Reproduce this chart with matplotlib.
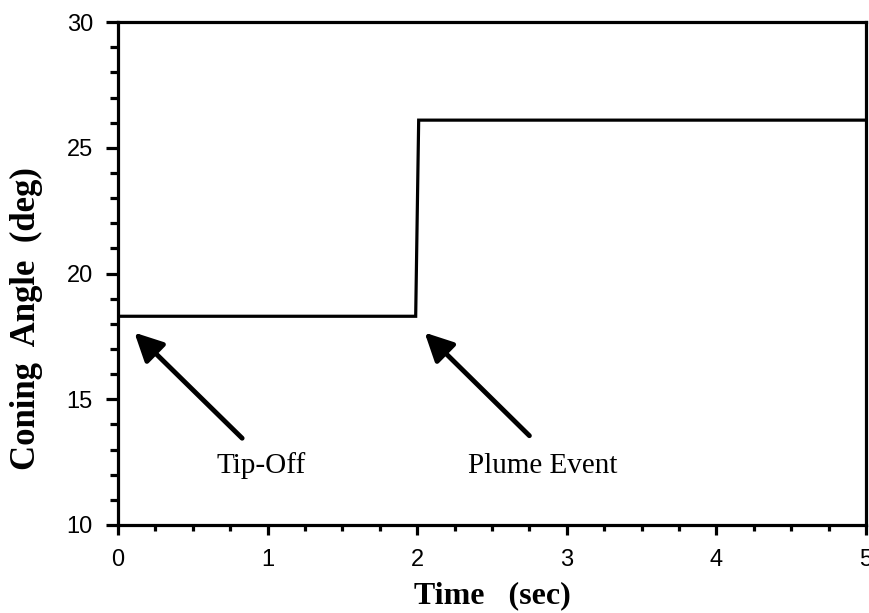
import matplotlib
matplotlib.use("Agg")
import matplotlib.pyplot as plt
from matplotlib.ticker import MultipleLocator

# Coning angle history: tip-off level, jump at the plume event
time_s = [0.0, 1.99, 2.01, 5.0]
coning_deg = [18.3, 18.3, 26.1, 26.1]

x_ticks = [0, 1, 2, 3, 4, 5]
y_ticks = [10, 15, 20, 25, 30]

# Annotations: (label, arrow tip (x, y), arrow tail (x, y), label position)
events = [
    ("Tip-Off", (0.11, 17.65), (0.83, 13.45), (0.96, 12.35)),
    ("Plume Event", (2.05, 17.65), (2.75, 13.55), (2.84, 12.35)),
]

fig = plt.figure(figsize=(8.7, 6.13), dpi=100)
ax = fig.add_axes([0.1356, 0.1436, 0.8598, 0.8204])

ax.plot(time_s, coning_deg, color="black", lw=2.3, solid_joinstyle="miter")

ax.set_xlim(0, 5)
ax.set_ylim(10, 30)
ax.set_xticks(x_ticks)
ax.set_yticks(y_ticks)
ax.xaxis.set_minor_locator(MultipleLocator(0.25))
ax.yaxis.set_minor_locator(MultipleLocator(1))

for s in ax.spines.values():
    s.set_linewidth(2.3)

ax.tick_params(axis="both", which="major", direction="out", width=2.3,
               color="black")
ax.tick_params(axis="x", which="major", length=7, pad=10)
ax.tick_params(axis="y", which="major", length=9, pad=9)
ax.tick_params(axis="x", which="minor", direction="out", length=4, width=2.3)
ax.tick_params(axis="y", which="minor", direction="out", length=6, width=2.3)
for lab in ax.get_xticklabels() + ax.get_yticklabels():
    lab.set_fontfamily(["Liberation Sans", "DejaVu Sans"])
    lab.set_fontsize(17)

serif = ["Liberation Serif", "DejaVu Serif"]
ax.set_xlabel("Time   (sec)", fontsize=23, fontweight="bold", family=serif,
              labelpad=8)
ax.set_ylabel("Coning  Angle  (deg)", fontsize=25, fontweight="bold",
              family=serif)
ax.yaxis.set_label_coords(-0.10, 0.41)

for label, tip, tail, pos in events:
    ax.annotate("", xy=tip, xytext=tail,
                arrowprops=dict(arrowstyle="-|>,head_length=1.7,head_width=0.85",
                                color="black", lw=3.5, shrinkA=0, shrinkB=0))
    ax.text(pos[0], pos[1], label, fontsize=21, family=serif,
            ha="center", va="center")

fig.savefig("out.png", dpi=100)
